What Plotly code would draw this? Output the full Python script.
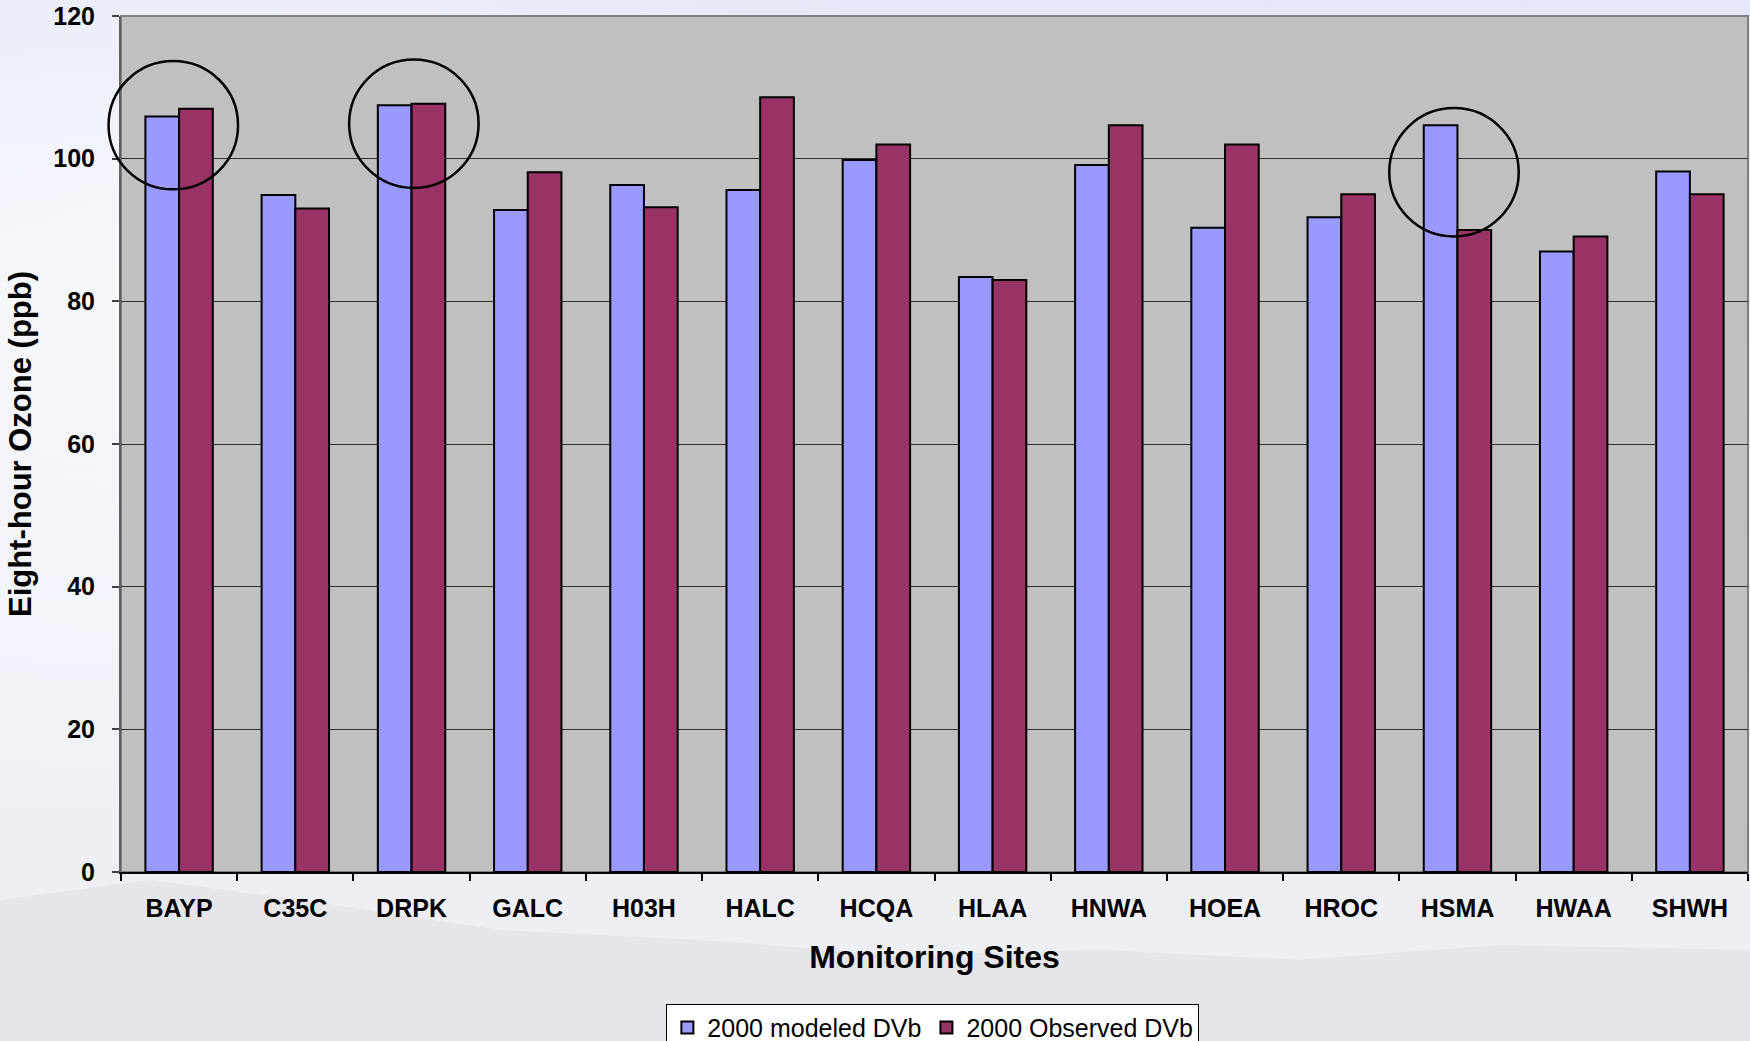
import plotly.graph_objects as go
import base64

sites = ["BAYP", "C35C", "DRPK", "GALC", "H03H", "HALC", "HCQA", "HLAA",
         "HNWA", "HOEA", "HROC", "HSMA", "HWAA", "SHWH"]
modeled = [105.9, 94.9, 107.5, 92.8, 96.3, 95.6, 99.8, 83.4, 99.1, 90.3, 91.8, 104.7, 87.0, 98.2]
observed = [107.0, 93.0, 107.7, 98.1, 93.2, 108.6, 102.0, 83.0, 104.7, 102.0, 95.0, 90.0, 89.1, 95.0]

y_ticks = [0, 20, 40, 60, 80, 100, 120]
y_max = 120

# highlighted sites (circle centre in data units, offset in category units)
circled_sites = ["BAYP", "DRPK", "HSMA"]
circle_y = [104.7, 104.9, 98.1]
circle_dx = [-0.05, 0.02, -0.03]

fig = go.Figure()
fig.add_trace(go.Bar(x=sites, y=modeled, name="2000 modeled DVb",
                     marker=dict(color="#9999ff", line=dict(color="black", width=2))))
fig.add_trace(go.Bar(x=sites, y=observed, name="2000 Observed DVb",
                     marker=dict(color="#993366", line=dict(color="black", width=2))))

shapes = [dict(type="rect", xref="paper", yref="paper", x0=0, x1=1, y0=0, y1=1,
               line=dict(width=0), fillcolor="#c0c0c0", layer="below")]
n = len(sites)
rx, ry = 0.557, 9.0
for s, cy, dx in zip(circled_sites, circle_y, circle_dx):
    i = sites.index(s) + dx
    # convert category / value positions to paper fractions (unclipped)
    shapes.append(dict(type="circle", xref="paper", yref="paper",
                       x0=(i - rx + 0.5) / n, x1=(i + rx + 0.5) / n,
                       y0=(cy - ry) / y_max, y1=(cy + ry) / y_max,
                       line=dict(color="black", width=2.5), fillcolor="rgba(0,0,0,0)"))
# plot border (top/right)
shapes.append(dict(type="rect", xref="paper", yref="paper", x0=0, x1=1, y0=0, y1=1,
                   line=dict(color="#808080", width=2), fillcolor="rgba(0,0,0,0)", layer="below"))

svg = """<svg xmlns='http://www.w3.org/2000/svg' width='1750' height='1041'>
<defs><linearGradient id='g' x1='0' y1='0' x2='0' y2='1'>
<stop offset='0' stop-color='#e3e7f7'/><stop offset='0.6' stop-color='#eef1f8'/>
<stop offset='1' stop-color='#eeeef2'/></linearGradient>
<radialGradient id='c' cx='0.1' cy='0.3' r='0.5'><stop offset='0' stop-color='#f7f9fc'/>
<stop offset='1' stop-color='#f7f9fc' stop-opacity='0'/></radialGradient></defs>
<rect width='1750' height='1041' fill='url(#g)'/>
<rect width='1750' height='1041' fill='url(#c)'/>
<path d='M0 900 L150 880 L300 900 L500 930 L700 940 L900 955 L1100 950 L1300 960 L1500 945 L1750 950 L1750 1041 L0 1041 Z' fill='#e6e6ea'/>
</svg>"""
src = "data:image/svg+xml;base64," + base64.b64encode(svg.encode()).decode()

fig.update_layout(
    width=1750, height=1041,
    margin=dict(l=121, r=2, t=16, b=169, autoexpand=False),
    paper_bgcolor="#eceff7",
    plot_bgcolor="#c0c0c0",
    barmode="group", bargap=0.42, bargroupgap=0,
    font=dict(family="Liberation Sans, Arial, sans-serif", color="black"),
    images=[dict(source=src, xref="paper", yref="paper", x=-121/1627, y=1+16/856,
                 sizex=1750/1627, sizey=1041/856, xanchor="left", yanchor="top",
                 sizing="stretch", layer="below")],
    shapes=shapes,
    legend=dict(orientation="h", x=0.499, xanchor="center", y=-0.154, yanchor="top",
                bgcolor="white", bordercolor="black", borderwidth=1,
                font=dict(size=25, family="Liberation Sans, Arial, sans-serif"),
                itemwidth=30, tracegroupgap=0),
    showlegend=True,
)
fig.update_xaxes(
    type="category", range=[-0.5, n - 0.5],
    showline=True, linecolor="black", linewidth=2,
    ticks="outside", tickson="boundaries", ticklen=7, tickcolor="black", tickwidth=2,
    tickfont=dict(size=25, family="Liberation Sans, Arial, sans-serif", weight="bold"),
    ticklabelstandoff=13,
    title=dict(text="<b>Monitoring Sites</b>", font=dict(size=32), standoff=25),
    showgrid=False,
)
fig.update_yaxes(
    range=[0, y_max], tickvals=y_ticks, showline=True, linecolor="#606060", linewidth=2,
    ticks="outside", ticklen=7, tickcolor="#404040", tickwidth=2,
    tickfont=dict(size=25, family="Liberation Sans, Arial, sans-serif", weight="bold"),
    ticklabelstandoff=12,
    showgrid=True, gridcolor="#303030", gridwidth=1.2, zeroline=False,
    title=dict(text="<b>Eight-hour Ozone (ppb)</b>", font=dict(size=31), standoff=12),
)

fig.write_html("out.html")
